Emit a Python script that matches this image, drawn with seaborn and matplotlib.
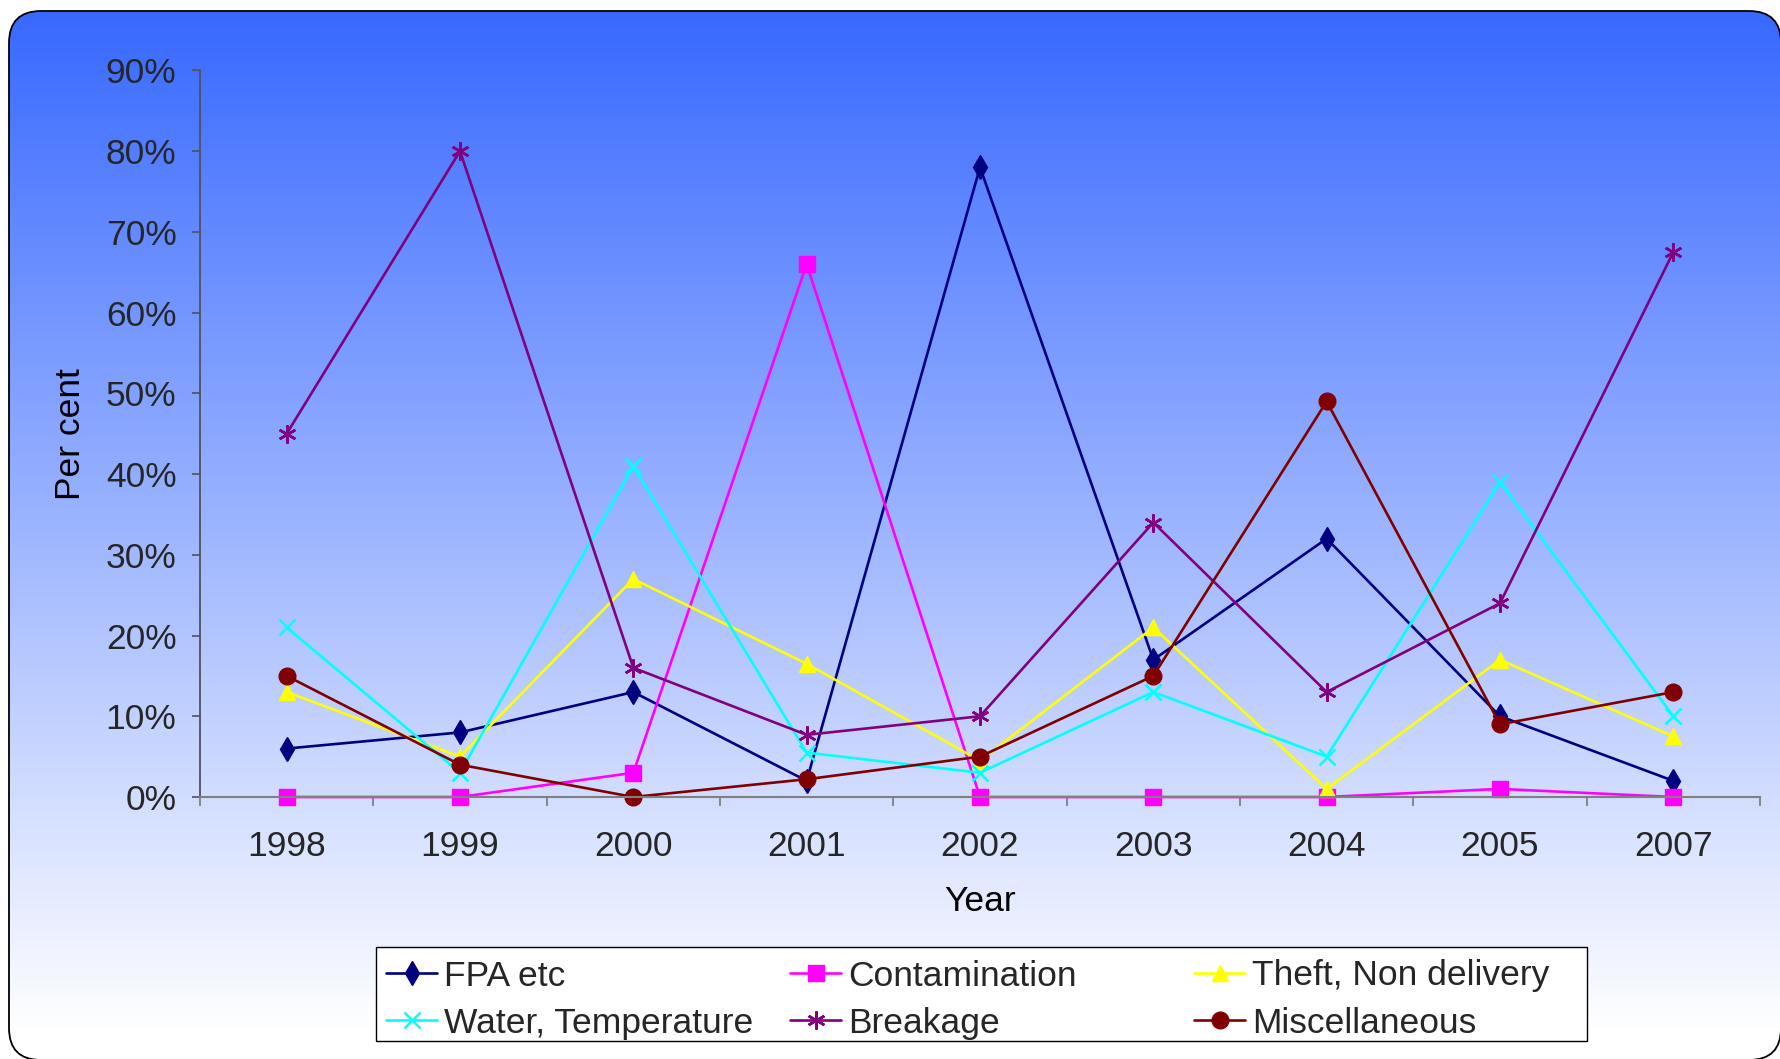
import numpy as np
import matplotlib
matplotlib.use('Agg')
import matplotlib.pyplot as plt
from matplotlib.patches import FancyBboxPatch, Rectangle
from matplotlib.ticker import FuncFormatter
import seaborn as sns

# values, in per cent
years = ['1998', '1999', '2000', '2001', '2002', '2003', '2004', '2005', '2007']
fpa = [6, 8, 13, 2, 78, 17, 32, 10, 2]
contamination = [0, 0, 3, 66, 0, 0, 0, 1, 0]
theft = [13, 5, 27, 16.5, 4.5, 21, 1, 17, 7.5]
water = [21, 3, 41, 5.5, 3, 13, 5, 39, 10]
breakage = [45, 80, 16, 7.7, 10, 34, 13, 24, 67.5]
misc = [15, 4, 0, 2.2, 5, 15, 49, 9, 13]

names = ['FPA etc', 'Contamination', 'Theft, Non delivery',
         'Water, Temperature', 'Breakage', 'Miscellaneous']
values = [fpa, contamination, theft, water, breakage, misc]
colors = ['#000080', '#FF00FF', '#FFFF00', '#00FFFF', '#800080', '#800000']
markers = ['d', 's', '^', 'x', (6, 2, 0), 'o']
msizes = [12.5, 11.5, 11.5, 11, 13, 12]

sns.set_theme(style='white')
plt.rcParams['font.family'] = ['Liberation Sans', 'DejaVu Sans']
FS = 25.5
W, H = 1780, 1059

fig = plt.figure(figsize=(W / 100, H / 100), dpi=100)

# gradient background inside a rounded frame
bg = fig.add_axes([0, 0, 1, 1], zorder=0)
bg.set_xlim(0, W)
bg.set_ylim(H, 0)
bg.axis('off')
top = np.array([56, 105, 255]) / 255
t = np.clip(np.linspace(0, 1, 512) / 0.97, 0, 1)[:, None]
img = (top + (1 - top) * t)[:, None, :]
im = bg.imshow(img, extent=[9, W + 2, H + 2, 11], aspect='auto', interpolation='bilinear')
frame = FancyBboxPatch((9, 11), W - 8, H - 10, boxstyle='round,pad=0,rounding_size=32',
                       fc='none', ec='black', lw=1.3)
bg.add_patch(frame)
im.set_clip_path(frame)

ax = fig.add_axes([200 / W, 1 - 797 / H, 1560 / W, 726.6 / H], zorder=2)
ax.patch.set_alpha(0)
x = np.arange(len(years))
for name, vals, c, m, ms in zip(names, values, colors, markers, msizes):
    mew = 1.8 if m in ('x', (6, 2, 0)) else 1
    sns.lineplot(x=x, y=vals, ax=ax, color=c, marker=m, markersize=ms,
                 markeredgecolor=c, markeredgewidth=mew, linewidth=1.9,
                 label=name, legend=False, clip_on=False)

ax.set_xlim(-0.5, 8.5)
ax.set_ylim(0, 90)
ax.set_yticks(range(0, 91, 10))
ax.yaxis.set_major_formatter(FuncFormatter(lambda v, p: f'{v:.0f}%'))
ax.set_xticks(np.arange(-0.5, 9, 1))
ax.set_xticklabels([])
ax.set_xticks(x, minor=True)
ax.set_xticklabels(years, minor=True)
ax.tick_params(axis='x', which='major', direction='out', length=6.5, width=1.2,
               color='#777777', bottom=True)
ax.tick_params(axis='x', which='minor', length=0, pad=24, labelsize=FS, bottom=True)
ax.tick_params(axis='y', direction='out', length=6, width=1.2, color='#505060',
               pad=11, labelsize=FS, left=True)
for s in ['top', 'right']:
    ax.spines[s].set_visible(False)
ax.spines['left'].set_color('#505060')
ax.spines['left'].set_linewidth(1.3)
ax.spines['bottom'].set_color('#808080')
ax.spines['bottom'].set_linewidth(1.5)

ax.set_xlabel('Year', fontsize=FS, color='black')
ax.xaxis.set_label_coords(0.5, -0.121)
fig.text(70 / W, 1 - 434 / H, 'Per cent', rotation=90, ha='center', va='center',
         fontsize=FS, color='black')

# legend: white box with three columns, row-major order as in Excel
fig.add_artist(Rectangle((376 / W, 1 - 1041 / H), (1587 - 376) / W, 94 / H,
                         transform=fig.transFigure, fc='white', ec='black', lw=1, zorder=1))
handles, labels = ax.get_legend_handles_labels()
col_x = [386, 790, 1194]
for i, cx in enumerate(col_x):
    fig.legend(handles=[handles[i], handles[i + 3]], labels=[labels[i], labels[i + 3]],
               loc='upper left', bbox_to_anchor=(cx / W, 1 - 959.5 / H),
               bbox_transform=fig.transFigure, frameon=False, borderpad=0,
               borderaxespad=0, handlelength=1.45, handletextpad=0.2,
               labelspacing=0.4, fontsize=FS)

fig.savefig('out.png', dpi=100)
